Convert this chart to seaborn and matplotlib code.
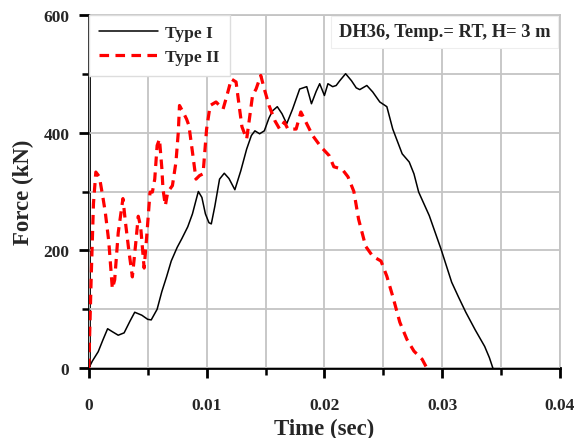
import numpy as np
import pandas as pd
import matplotlib
matplotlib.use("Agg")
import matplotlib.pyplot as plt
from matplotlib.ticker import MultipleLocator
import seaborn as sns

# Type I (black solid)
t1 = [0.0, 0.0003, 0.0008, 0.0012, 0.0016, 0.0020, 0.0025, 0.0030, 0.0035, 0.0039,
      0.0045, 0.0050, 0.0053, 0.0058, 0.0062, 0.0066, 0.0070, 0.0075, 0.0079, 0.0084,
      0.0088, 0.0091, 0.0093, 0.0096, 0.0099, 0.0102, 0.0104, 0.0107, 0.0111, 0.0115,
      0.0119, 0.0124, 0.0129, 0.0134, 0.0138, 0.0141, 0.0145, 0.0149, 0.0153, 0.0156,
      0.0160, 0.0164, 0.0168, 0.0173, 0.0179, 0.0185, 0.0189, 0.0193, 0.0196, 0.0200,
      0.0203, 0.0207, 0.0210, 0.0213, 0.0218, 0.0223, 0.0227, 0.0230, 0.0236, 0.0241,
      0.0247, 0.0253, 0.0258, 0.0262, 0.0266, 0.0272, 0.0276, 0.0280, 0.0289, 0.0299,
      0.0308, 0.0314, 0.0320, 0.0328, 0.0336, 0.0340, 0.0343]
f1 = [0, 12, 28, 48, 67, 62, 56, 60, 80, 95,
      90, 83, 82, 100, 130, 155, 182, 205, 220, 240,
      262, 285, 300, 290, 262, 247, 245, 275, 321, 331,
      322, 303, 335, 372, 395, 403, 398, 403, 425, 437,
      444, 432, 415, 440, 474, 478, 449, 470, 483, 463,
      483, 478, 480, 488, 500, 488, 476, 473, 480, 469,
      452, 444, 406, 385, 364, 350, 330, 299, 259, 202,
      146, 120, 95, 65, 37, 18, 0]

# Type II (red dashed)
t2 = [0.0, 0.0002, 0.0004, 0.0006, 0.0009, 0.0012, 0.0014, 0.0017, 0.0020, 0.0022,
      0.0025, 0.0029, 0.0031, 0.0034, 0.0037, 0.0040, 0.0042, 0.0044, 0.0047, 0.0049,
      0.0052, 0.0054, 0.0056, 0.0058, 0.0060, 0.0062, 0.0063, 0.0065, 0.0067, 0.0071,
      0.0074, 0.0076, 0.0077, 0.0080, 0.0083, 0.0085, 0.0088, 0.0091, 0.0094, 0.0097,
      0.0100, 0.0103, 0.0108, 0.0114, 0.0117, 0.0121, 0.0125, 0.0128, 0.0130, 0.0134,
      0.0136, 0.0139, 0.0142, 0.0146, 0.0149, 0.0153, 0.0158, 0.0162, 0.0166, 0.0169,
      0.0176, 0.0180, 0.0185, 0.0190, 0.0197, 0.0204, 0.0208, 0.0215, 0.0220, 0.0225,
      0.0229, 0.0235, 0.0241, 0.0248, 0.0253, 0.0258, 0.0264, 0.0270, 0.0276, 0.0283,
      0.0287]
f2 = [0, 150, 280, 333, 325, 290, 265, 215, 135, 150,
      230, 288, 250, 200, 155, 215, 258, 241, 170, 219,
      299, 299, 321, 378, 389, 340, 304, 276, 299, 310,
      350, 401, 446, 435, 423, 412, 367, 321, 327, 330,
      406, 446, 452, 440, 461, 491, 486, 440, 410, 389,
      418, 463, 474, 497, 474, 446, 420, 406, 418, 406,
      406, 435, 415, 395, 376, 361, 342, 338, 325, 300,
      253, 207, 190, 182, 156, 122, 78, 49, 29, 15,
      0]

x_ticks = [0, 0.01, 0.02, 0.03, 0.04]
x_labels = ["0", "0.01", "0.02", "0.03", "0.04"]
y_ticks = [0, 200, 400, 600]
y_labels = ["0", "200", "400", "600"]

df1 = pd.DataFrame({"t": t1, "F": f1})
df2 = pd.DataFrame({"t": t2, "F": f2})

sns.set_theme(style="ticks")
plt.rcParams["font.family"] = ["Liberation Serif", "DejaVu Serif"]
plt.rcParams["font.weight"] = "bold"
plt.rcParams["axes.axisbelow"] = False

fig = plt.figure(figsize=(5.84, 4.39), dpi=100)
ax = fig.add_axes([0.152, 0.159, 0.807, 0.805])

sns.lineplot(data=df1, x="t", y="F", ax=ax, color="black", linewidth=1.1,
             sort=False, estimator=None, label="Type I", zorder=3)
sns.lineplot(data=df2, x="t", y="F", ax=ax, color="red", linewidth=2.3,
             sort=False, estimator=None, label="Type II", zorder=3)
ax.lines[1].set_linestyle((0, (3, 2)))

ax.set_xlim(0, 0.04)
ax.set_ylim(0, 600)
ax.set_xticks(x_ticks)
ax.set_xticklabels(x_labels)
ax.set_yticks(y_ticks)
ax.set_yticklabels(y_labels)
ax.xaxis.set_minor_locator(MultipleLocator(0.005))
ax.yaxis.set_minor_locator(MultipleLocator(100))

ax.set_axisbelow(False)
ax.grid(True, which="both", color="#c4c4c4", linewidth=1.3)

ax.tick_params(axis="both", which="both", bottom=True, left=True, top=False,
               right=False, color="black", direction="out")
ax.tick_params(axis="both", which="major", length=7, width=2.0, labelsize=12.5)
ax.tick_params(axis="both", which="minor", length=5, width=1.8)
ax.tick_params(axis="x", which="major", pad=14)
ax.tick_params(axis="y", which="major", pad=7)
for lab in ax.get_xticklabels() + ax.get_yticklabels():
    lab.set_fontweight("bold")

for s in ["left", "bottom"]:
    ax.spines[s].set_color("black")
    ax.spines[s].set_linewidth(2.0)
for s in ["top", "right"]:
    ax.spines[s].set_visible(True)
    ax.spines[s].set_color("#c4c4c4")
    ax.spines[s].set_linewidth(1.3)

ax.set_xlabel("Time (sec)", fontsize=16.5, fontweight="bold", labelpad=3)
ax.set_ylabel("Force (kN)", fontsize=16.5, fontweight="bold", labelpad=7)

leg = ax.legend(loc="upper left", frameon=True, fancybox=False, fontsize=12.5,
                handlelength=3.4, borderaxespad=0.0, borderpad=0.6,
                labelspacing=0.45, handletextpad=0.4)
leg.get_frame().set_edgecolor("#dddddd")
leg.get_frame().set_linewidth(1.0)
leg.get_frame().set_alpha(1.0)
leg.set_zorder(6)
for txt in leg.get_texts():
    txt.set_fontweight("bold")

ax.text(0.0302, 571, "DH36, Temp.= RT, H= 3 m", ha="center", va="center",
        fontsize=13.3, fontweight="bold", zorder=5,
        bbox=dict(boxstyle="square,pad=0.4", facecolor="white",
                  edgecolor="#eeeeee", linewidth=0.8))

fig.savefig("out.png", dpi=100)
